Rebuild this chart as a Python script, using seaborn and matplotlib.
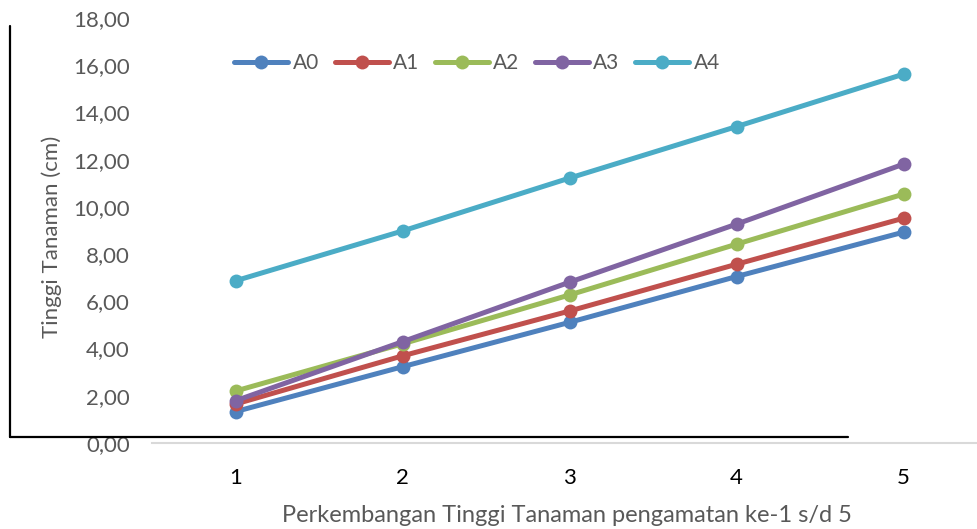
import pandas as pd
import seaborn as sns
import matplotlib.pyplot as plt
from matplotlib.lines import Line2D
from matplotlib.ticker import FuncFormatter

# data
pengamatan = [1, 2, 3, 4, 5]
a0 = [1.33, 3.23, 5.11, 7.05, 8.93]
a1 = [1.65, 3.69, 5.59, 7.57, 9.52]
a2 = [2.20, 4.20, 6.27, 8.42, 10.54]
a3 = [1.79, 4.29, 6.81, 9.27, 11.81]
a4 = [6.87, 8.98, 11.22, 13.40, 15.62]
series_names = ['A0', 'A1', 'A2', 'A3', 'A4']
colors = ['#4F81BD', '#C0504D', '#9BBB59', '#8064A2', '#4BACC6']

rows = []
for name, vals in zip(series_names, [a0, a1, a2, a3, a4]):
    for x, v in zip(pengamatan, vals):
        rows.append({'pengamatan': x, 'tinggi': v, 'perlakuan': name})
df = pd.DataFrame(rows)

sns.set_style('white')
plt.rcParams['font.family'] = ['Lato', 'DejaVu Sans']

fig = plt.figure(figsize=(9.77, 5.29), dpi=100)
W, H = 977, 529
ax = fig.add_axes([152 / W, (H - 443) / H, (977 - 152) / W, (443 - 18) / H])

sns.lineplot(data=df, x='pengamatan', y='tinggi', hue='perlakuan',
             palette=colors, marker='o', markersize=10, linewidth=3.6,
             markeredgewidth=0, ax=ax)

ax.set_xlim(0.5, 0.5 + 825 / 167)
ax.set_ylim(0, 18)
ax.set_yticks(range(0, 19, 2))
ax.set_xticks(pengamatan)
ax.yaxis.set_major_formatter(FuncFormatter(lambda v, p: f'{v:.2f}'.replace('.', ',')))
ax.tick_params(axis='y', length=0, pad=16, labelsize=16, labelcolor='#595959')
ax.tick_params(axis='x', length=0, pad=18, labelsize=16, labelcolor='black')

for s in ['top', 'right', 'left']:
    ax.spines[s].set_visible(False)
ax.spines['bottom'].set_color('#d9d9d9')
ax.spines['bottom'].set_linewidth(1.5)

ax.set_xlabel('Perkembangan Tinggi Tanaman pengamatan ke-1 s/d 5',
              fontsize=17, color='#595959', va='center')
ax.set_ylabel('Tinggi Tanaman (cm)', fontsize=16, color='#595959', va='center')
ax.xaxis.set_label_coords((567 - 152) / 825, -(515 - 443) / 425)
ax.yaxis.set_label_coords(-(152 - 52) / 825, (443 - 237) / 425)

ax.legend(loc='center', bbox_to_anchor=((477 - 152) / 825, (443 - 63) / 425),
          ncol=5, frameon=False, fontsize=15, handlelength=2.6,
          columnspacing=0.75, handletextpad=0.2, labelcolor='#595959')

# black frame lines on the left and bottom
fig.add_artist(Line2D([10 / W, 10 / W], [(H - 26) / H, (H - 437) / H],
                      color='black', linewidth=1.6, transform=fig.transFigure))
fig.add_artist(Line2D([10 / W, 848 / W], [(H - 437) / H, (H - 437) / H],
                      color='black', linewidth=1.6, transform=fig.transFigure))

fig.savefig('out.png', dpi=100)
